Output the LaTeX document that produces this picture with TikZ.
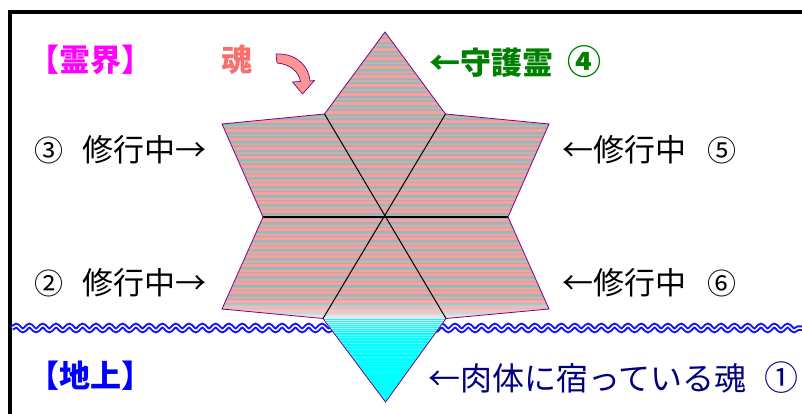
\documentclass[tikz,border=0pt]{standalone}
\usepackage{fontspec}
\newfontfamily\jp{Noto Sans CJK JP}
\usetikzlibrary{decorations.pathmorphing}
\definecolor{pinkc}{RGB}{248,160,160}
\definecolor{grayc}{RGB}{170,176,176}
\definecolor{tealc}{RGB}{120,205,205}
\definecolor{cyanc}{RGB}{0,255,255}
\definecolor{outl}{RGB}{128,0,128}
\definecolor{wavec}{RGB}{20,20,255}
\definecolor{soulc}{RGB}{250,110,110}
\definecolor{arrowc}{RGB}{250,150,150}
\definecolor{greenc}{RGB}{0,128,0}
\definecolor{navyc}{RGB}{0,0,128}
\definecolor{magc}{RGB}{255,0,255}
\definecolor{bluec}{RGB}{0,0,255}
\newcommand{\dg}[1]{{\fontsize{29}{32}\selectfont #1}}
\newcommand{\dgb}[1]{{\fontsize{34}{36}\selectfont #1}}
\begin{document}
\begin{tikzpicture}[x=1pt,y=-1pt,
  lbl/.style={font=\jp\fontsize{31}{34}\selectfont, inner sep=0pt},
  navylbl/.style={font=\jp\fontsize{32}{35}\selectfont, inner sep=0pt},
  boldlbl/.style={font=\jp\bfseries\fontsize{31}{34}\selectfont, inner sep=0pt},
  innerline/.style={black, line width=1pt},
  starpath/.style={outl, line width=0.8pt, line join=miter}]
\useasboundingbox (0,0) rectangle (802,414);
% frame
\draw[line width=4pt] (9.5,414) -- (9.5,12) -- (802,12);
% wave (earth surface)
\draw[wavec, line width=2pt, double=white, double distance=1.5pt,
  decorate, decoration={snake, amplitude=2.4pt, segment length=13.3pt}]
  (12,328) -- (802,328);
% star coordinates
\coordinate (T) at (385,32);
\coordinate (URi) at (445.5,114);
\coordinate (URo) at (549,124);
\coordinate (Ri) at (508,217);
\coordinate (LRo) at (549,309);
\coordinate (LRi) at (446,318.5);
\coordinate (B) at (385.5,402);
\coordinate (LLi) at (323,318.5);
\coordinate (LLo) at (222,309);
\coordinate (Li) at (263,217);
\coordinate (ULo) at (222,124);
\coordinate (ULi) at (324.5,114);
\coordinate (C) at (385,217);
\begin{scope}
  \clip (T) -- (URi) -- (URo) -- (Ri) -- (LRo) -- (LRi) -- (B) -- (LLi) -- (LLo) -- (Li) -- (ULo) -- (ULi) -- cycle;
  \fill[pinkc] (215,28) rectangle (556,318);
  \foreach \y in {33,37.5,...,316} { \fill[grayc] (215,\y) rectangle (556,\y+1.6); }
  \foreach \y in {35,44,...,316} { \fill[tealc] (215,\y) rectangle (556,\y+1.1); }
  \foreach \y/\o in {300/0.1,302/0.15,304/0.2,306/0.25,308/0.3,310/0.35,312/0.45,314/0.55,316/0.65} {
    \fill[white, opacity=\o] (215,\y) rectangle (556,\y+2.05); }
  \fill[cyanc] (215,318) rectangle (556,406);
  \foreach \y/\o in {318/0.75,320/0.9,322/0.95,324/0.8,326/0.6,328/0.75,330/0.45,332/0.6,335/0.4,337/0.5,340/0.3,343/0.4,346/0.25,349/0.3,353/0.2,357/0.25,361/0.15,366/0.12,372/0.08} {
    \fill[white, opacity=\o] (215,\y) rectangle (556,\y+1.4); }
\end{scope}
\draw[starpath] (T) -- (URi) -- (URo) -- (Ri) -- (LRo) -- (LRi) -- (B) -- (LLi) -- (LLo) -- (Li) -- (ULo) -- (ULi) -- cycle;
% inner lines
\draw[innerline] (ULi) -- (LRi);
\draw[innerline] (URi) -- (LLi);
\draw[black, line width=1.6pt] (Li) -- (Ri);
% curved fat arrow
\draw[outl, line width=0.7pt, fill=arrowc, line join=round]
  (276,54) .. controls (296,53) and (309,66) .. (310,81)
  -- (314.5,80.5) -- (302.5,94) -- (292.5,82)
  -- (300.5,81.5) .. controls (299,72) and (290,64) .. (277,63) -- cycle;
% labels
\node[boldlbl, text=magc, anchor=west] (reikai) at (28,60) {【霊界】};
\node[boldlbl, text=bluec, anchor=west] (chijo) at (28,376) {【地上】};
\node[boldlbl, text=soulc, anchor=center] (tamashii) at (237,60) {魂};
\node[boldlbl, text=greenc, anchor=west] (shugo) at (429,62) {←守護霊\hspace{14pt}\dgb{④}};
\node[lbl, anchor=west] (s3) at (34,150) {\dg{③}\hspace{19pt}修行中→};
\node[lbl, anchor=west] (s2) at (34,283) {\dg{②}\hspace{19pt}修行中→};
\node[lbl, anchor=west] (s5) at (562,150) {←修行中\hspace{21pt}\dg{⑤}};
\node[lbl, anchor=west] (s6) at (562,283) {←修行中\hspace{21pt}\dg{⑥}};
\node[navylbl, text=navyc, anchor=west] (nikutai) at (428,378) {←肉体に宿っている魂\hspace{18pt}\dgb{①}};
\end{tikzpicture}
\end{document}
